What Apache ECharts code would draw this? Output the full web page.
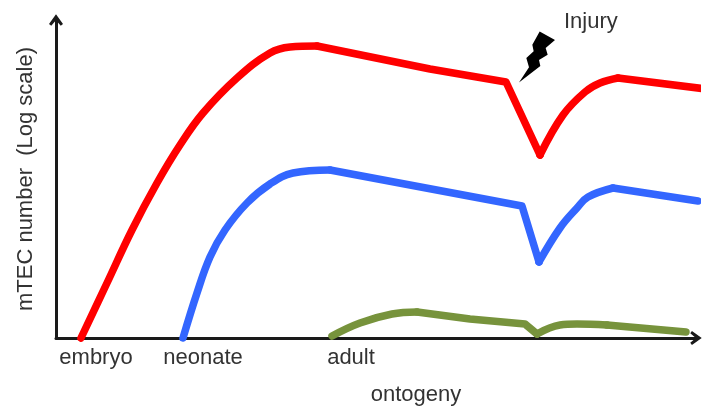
<!DOCTYPE html>
<html>
<head>
<meta charset="utf-8">
<style>
html, body { margin: 0; padding: 0; background: #fff; }
#main { width: 702px; height: 410px; }
</style>
<script src="https://cdn.jsdelivr.net/npm/echarts@6/dist/echarts.min.js"></script>
</head>
<body>
<div id="main"></div>
<script>
// values, [ontogeny, mTEC number] in arbitrary units
// each line is cut at its sharp corners, only the curved parts get smoothed
var redRise = [[25,0],[51,55],[76,108],[101,155],[124,193],[147,225],[181,260],[214,285],[234,291],[261,292]];
var redDrop = [[261,292],[374,269],[450,256],[484,183]];
var redRecover = [[484,183],[507,223],[529,246],[544,255],[562,260]];
var redTail = [[562,260],[650,249]];
var blueRise = [[127,0],[141,45],[154,81],[169,108],[191,135],[214,154],[237,165],[274,168]];
var blueDrop = [[274,168],[466,132],[483,76]];
var blueRecover = [[483,76],[504,110],[521,130],[532,141],[557,150]];
var blueTail = [[557,150],[642,137]];
var greenRise = [[276,2],[304,15],[336,24],[361,26]];
var greenDrop = [[361,26],[414,19],[469,14],[481,4]];
var greenRecover = [[481,4],[504,13],[521,14],[551,13]];
var greenTail = [[551,13],[630,6]];
var boltPoint = [[481,281]];
var stageValues = [40,147,295];
var stageLabels = ['embryo','neonate','adult'];

var fontName = '"Liberation Sans", Arial, sans-serif';
var arrowHead = 'path://M5 0 L10 7 L8.4 8.2 L5 4.2 L1.6 8.2 L0 7 Z';
var bolt = 'path://M88 20 L134 46 L106 70 L112 90 L86 106 L90 124 L26 174 L56 128 L48 100 L70 80 L66 60 Z';

var myChart = echarts.init(document.getElementById('main'));

function lineSeries(name, data, color, smooth) {
    return {
        name: name,
        type: 'line',
        data: data,
        smooth: smooth,
        showSymbol: false,
        clip: false,
        silent: true,
        lineStyle: { color: color, width: 7.5, join: 'round', cap: 'round' }
    };
}

var option = {
    animation: false,
    backgroundColor: '#fff',
    grid: { left: 56, right: 6, top: 20, bottom: 72, outerBoundsMode: 'none' },
    xAxis: {
        type: 'value',
        min: 0,
        max: 640,
        splitLine: { show: false },
        axisTick: { show: false },
        axisLine: {
            onZero: false,
            symbol: ['none', arrowHead],
            symbolSize: [14, 12],
            lineStyle: { color: '#1a1a1a', width: 3 }
        },
        axisLabel: {
            customValues: stageValues,
            formatter: function (v) {
                return stageLabels[stageValues.indexOf(v)];
            },
            color: '#333',
            fontFamily: fontName,
            fontSize: 22,
            margin: 9
        },
        name: 'ontogeny',
        nameLocation: 'middle',
        nameGap: 46,
        nameTextStyle: { color: '#333', fontFamily: fontName, fontSize: 22, padding: [0, 0, 0, 80] }
    },
    yAxis: {
        type: 'value',
        min: 0,
        max: 318,
        splitLine: { show: false },
        axisTick: { show: false },
        axisLabel: { show: false },
        axisLine: {
            onZero: false,
            symbol: ['none', arrowHead],
            symbolSize: [14, 12],
            lineStyle: { color: '#1a1a1a', width: 3 }
        },
        name: 'mTEC number  (Log scale)',
        nameLocation: 'middle',
        nameGap: 19,
        nameTextStyle: { color: '#333', fontFamily: fontName, fontSize: 22 }
    },
    series: [
        lineSeries('red', redRise, '#ff0000', 0.4),
        lineSeries('red', redDrop, '#ff0000', false),
        lineSeries('red', redRecover, '#ff0000', 0.4),
        lineSeries('red', redTail, '#ff0000', false),
        lineSeries('blue', blueRise, '#3366ff', 0.4),
        lineSeries('blue', blueDrop, '#3366ff', false),
        lineSeries('blue', blueRecover, '#3366ff', 0.4),
        lineSeries('blue', blueTail, '#3366ff', false),
        lineSeries('green', greenRise, '#77933c', 0.4),
        lineSeries('green', greenDrop, '#77933c', false),
        lineSeries('green', greenRecover, '#77933c', 0.4),
        lineSeries('green', greenTail, '#77933c', false),
        {
            name: 'injury',
            type: 'scatter',
            data: boltPoint,
            symbol: bolt,
            symbolSize: [36, 51],
            silent: true,
            itemStyle: { color: '#000', opacity: 1 }
        }
    ],
    graphic: [{
        type: 'text',
        left: 564,
        top: 11,
        silent: true,
        style: { text: 'Injury', fill: '#333', font: '22px ' + fontName }
    }]
};

myChart.setOption(option);
</script>
</body>
</html>
